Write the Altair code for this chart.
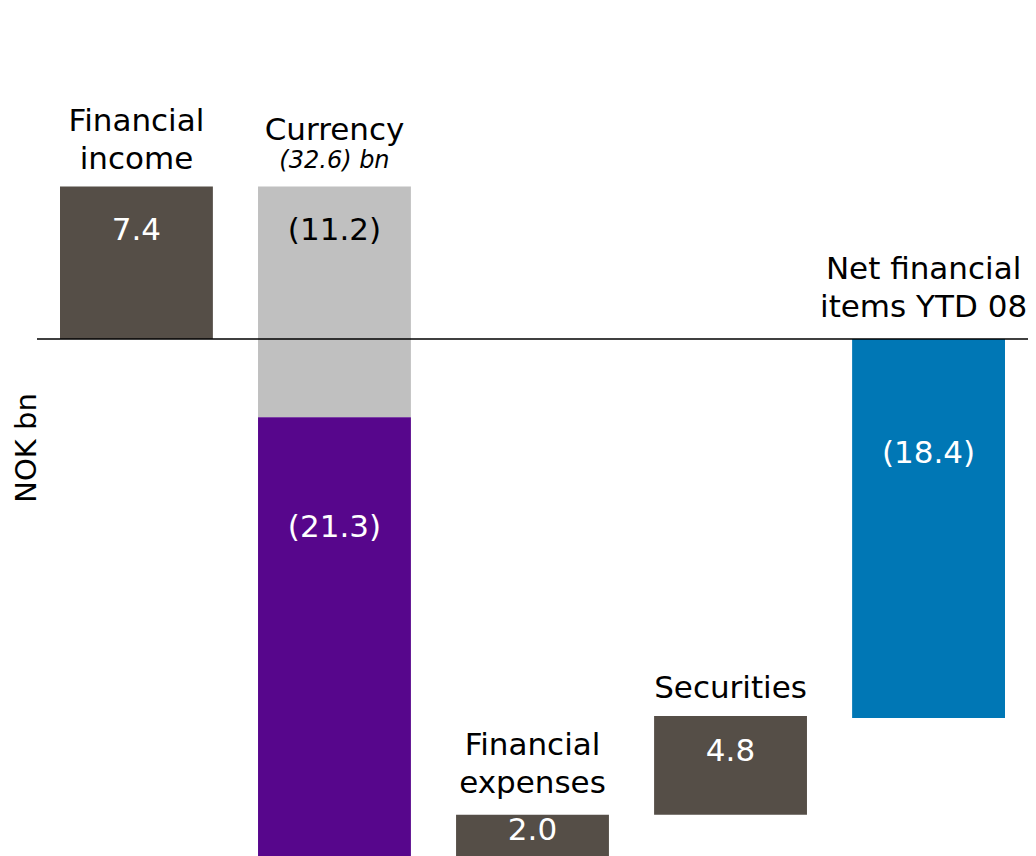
import altair as alt
import pandas as pd

# ---------------- data ----------------
categories = ["Financial income", "Currency", "Financial expenses", "Securities",
              "Net financial items YTD 08"]
category_lines = [["Financial", "income"], ["Currency"], ["Financial", "expenses"],
                  ["Securities"], ["Net financial", "items YTD 08"]]

seg_category = ["Financial income", "Currency", "Currency", "Financial expenses",
                "Securities", "Net financial items YTD 08"]
seg_change = [7.4, -11.2, -21.3, 2.0, 4.8, -18.4]
seg_kind = ["step", "step", "step", "step", "step", "total"]
seg_group = ["base", "currency_other", "currency_main", "base", "base", "total"]
seg_text = ["7.4", "(11.2)", "(21.3)", "2.0", "4.8", "(18.4)"]
currency_note = "(32.6) bn"
y_title = "NOK bn"

# ---------------- styling ----------------
FONT = "DejaVu Sans"
PX = 20.6          # pixels per NOK bn
ZERO = 331         # pixel row of the zero line inside the plot
W, H = 1020, 848
LINE_H = 38
label_offset_px = [44, 44, 111, 16, 36, 115]   # value label distance below segment top
cat_gap_px = [18, 47, 22, 18, 22]              # last label baseline above bar top
group_colors = {"base": "#554e47", "currency_other": "#c0c0c0",
                "currency_main": "#57068c", "total": "#0077b5"}
text_colors = ["white", "black", "white", "white", "white", "white"]

y_dom = [-(H - ZERO) / PX, ZERO / PX]

# ---------------- waterfall build ----------------
rows = []
run = 0.0
for cat, ch, kind, grp, txt, off, tc in zip(seg_category, seg_change, seg_kind, seg_group,
                                            seg_text, label_offset_px, text_colors):
    if kind == "total":
        start, end = 0.0, ch
    else:
        start, end = run, run + ch
        run = end
    top = max(start, end)
    rows.append(dict(category=cat, start=start, end=end, group=grp, text=txt,
                     label_y=top - off / PX, tcolor=tc))
seg = pd.DataFrame(rows)

tops = seg.assign(top=seg[["start", "end"]].max(axis=1)).groupby("category")["top"].max()
cat_df = pd.DataFrame(dict(category=categories, lines=category_lines,
                           top=[tops[c] for c in categories]))
cat_df["label_y"] = [t + (g + (len(l) - 1) * LINE_H) / PX
                     for t, g, l in zip(cat_df["top"], cat_gap_px, cat_df["lines"])]
net_name = categories[-1]
main_cat = cat_df[cat_df.category != net_name]
net_cat = cat_df[cat_df.category == net_name]
cur_cat = cat_df[cat_df.category == "Currency"].copy()
cur_cat["note"] = currency_note
cur_cat["note_y"] = cur_cat["top"] + 19 / PX

xscale = alt.Scale(domain=categories, range=[52, 997], paddingInner=0.228, paddingOuter=0)
yscale = alt.Scale(domain=y_dom, nice=False, zero=False)

x_enc = alt.X("category:N", scale=xscale, axis=None, sort=categories)

bars = alt.Chart(seg).mark_bar(clip=True).encode(
    x=x_enc,
    y=alt.Y("start:Q", scale=yscale, axis=None),
    y2="end:Q",
    color=alt.Color("group:N", legend=None,
                    scale=alt.Scale(domain=list(group_colors.keys()),
                                    range=list(group_colors.values()))),
)

values = alt.Chart(seg).mark_text(font=FONT, fontSize=31, baseline="middle",
                                  align="center").encode(
    x=x_enc,
    y=alt.Y("label_y:Q", scale=yscale, axis=None),
    text="text:N",
    color=alt.Color("tcolor:N", scale=None),
)

cat_labels = alt.Chart(main_cat).mark_text(font=FONT, fontSize=31, baseline="alphabetic",
                                           align="center", lineHeight=LINE_H,
                                           color="black").encode(
    x=x_enc,
    y=alt.Y("label_y:Q", scale=yscale, axis=None),
    text="lines",
)

net_label = alt.Chart(net_cat).mark_text(font=FONT, fontSize=31, baseline="alphabetic",
                                         align="center", lineHeight=LINE_H, dx=-5,
                                         color="black").encode(
    x=x_enc,
    y=alt.Y("label_y:Q", scale=yscale, axis=None),
    text="lines",
)

cur_note = alt.Chart(cur_cat).mark_text(font=FONT, fontSize=24, fontStyle="italic",
                                        baseline="alphabetic", align="center",
                                        color="black").encode(
    x=x_enc,
    y=alt.Y("note_y:Q", scale=yscale, axis=None),
    text="note:N",
)

zero_line = alt.Chart(pd.DataFrame({"v": [0]})).mark_rule(color="black",
                                                         strokeWidth=1.3).encode(
    y=alt.Y("v:Q", scale=yscale, axis=None),
    x=alt.value(29),
    x2=alt.value(1021),
)

ytitle = alt.Chart(pd.DataFrame({"t": [y_title]})).mark_text(
    font=FONT, fontSize=29, angle=270, align="center", baseline="middle",
    color="black").encode(
    x=alt.value(19), y=alt.value(440), text="t:N")

chart = alt.layer(bars, zero_line, values, cat_labels, net_label, cur_note, ytitle).properties(
    width=W, height=H, padding=0, autosize=alt.AutoSizeParams(type="none"),
    background="white",
).configure_view(strokeWidth=0)

chart.save("out.html", embed_options={"renderer": "svg", "actions": False})
